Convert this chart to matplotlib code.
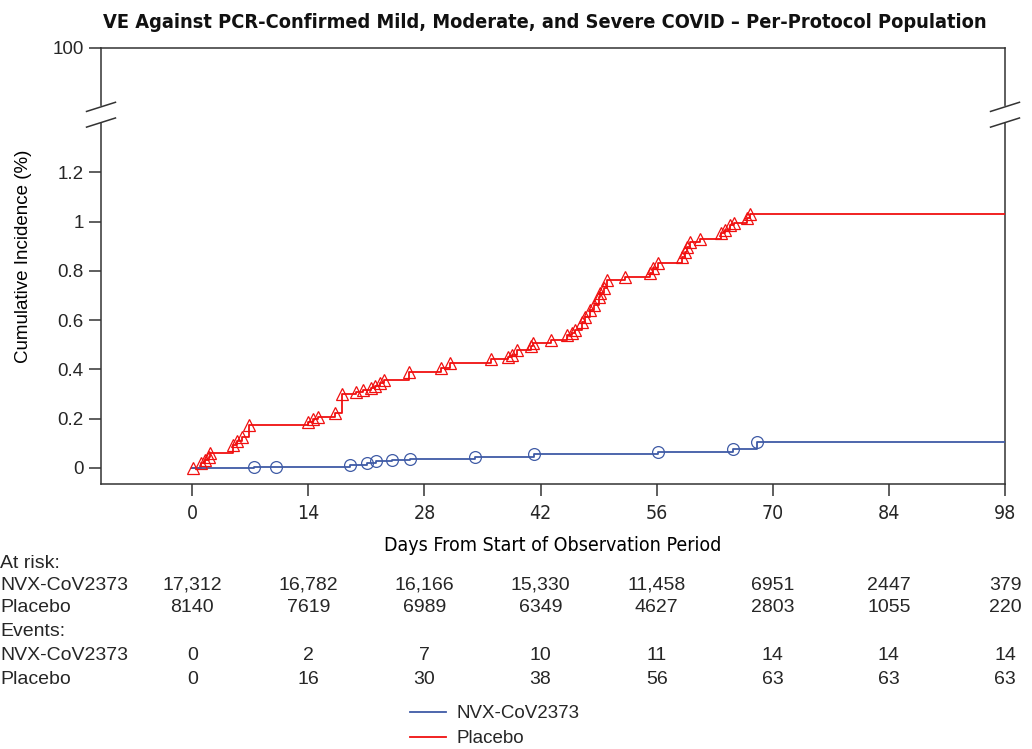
"""Cumulative incidence (KM style) chart with at-risk table, per-protocol population."""
import matplotlib
matplotlib.use("Agg")
import matplotlib.pyplot as plt
from matplotlib import font_manager
from matplotlib.transforms import blended_transform_factory

# ── Data ──────────────────────────────────────────────────────────────────────
placebo_days = [0.1, 1.0, 1.5, 2.0, 2.1, 4.9, 5.4, 6.0, 6.9, 14.0, 14.6, 15.2, 17.2,
                18.1, 19.7, 20.6, 21.6, 22.0, 22.7, 23.1, 26.1, 30.0, 31.1, 36.0,
                38.1, 38.5, 39.1, 40.9, 41.1, 43.2, 45.2, 45.8, 46.2, 47.0, 47.3,
                48.0, 48.4, 49.0, 49.2, 49.7, 50.0, 52.2, 55.2, 55.6, 56.2, 59.0,
                59.4, 59.7, 60.0, 61.2, 63.8, 64.2, 64.9, 65.3, 66.9, 67.2]
placebo_ci = [0.0, 0.019, 0.032, 0.046, 0.062, 0.093, 0.11, 0.127, 0.174, 0.185, 0.198,
              0.207, 0.222, 0.30, 0.31, 0.317, 0.325, 0.333, 0.345, 0.357, 0.388, 0.404,
              0.425, 0.443, 0.45, 0.46, 0.48, 0.495, 0.506, 0.52, 0.54, 0.546, 0.56,
              0.593, 0.614, 0.64, 0.66, 0.695, 0.709, 0.73, 0.763, 0.775, 0.79, 0.81,
              0.833, 0.857, 0.875, 0.898, 0.918, 0.928, 0.952, 0.966, 0.986, 0.995,
              1.013, 1.03]

nvx_days = [7.5, 10.1, 19.0, 21.1, 22.2, 24.1, 26.2, 34.1, 41.2, 56.2, 65.2, 68.1]
nvx_ci = [0.004, 0.006, 0.012, 0.02, 0.028, 0.032, 0.038, 0.045, 0.055, 0.066, 0.078, 0.107]

end_day = 98
risk_days = [0, 14, 28, 42, 56, 70, 84, 98]
nvx_at_risk = ["17,312", "16,782", "16,166", "15,330", "11,458", "6951", "2447", "379"]
placebo_at_risk = ["8140", "7619", "6989", "6349", "4627", "2803", "1055", "220"]
nvx_events = [0, 2, 7, 10, 11, 14, 14, 14]
placebo_events = [0, 16, 30, 38, 56, 63, 63, 63]

ytick_vals = [0, 0.2, 0.4, 0.6, 0.8, 1.0, 1.2]
ytick_labels = ["0", "0.2", "0.4", "0.6", "0.8", "1", "1.2"]

BLUE = "#3f5ba6"
RED = "#f01010"
TXT = "#262626"

names = {f.name for f in font_manager.fontManager.ttflist}
if "Liberation Sans Narrow" in names:
    NARROW = dict(family="Liberation Sans Narrow")
else:
    NARROW = dict(family="DejaVu Sans", stretch="condensed")
REG = "Liberation Sans" if "Liberation Sans" in names else "DejaVu Sans"

plt.rcParams.update({"font.family": REG, "text.color": TXT})

W, H = 1032, 749
fig = plt.figure(figsize=(W / 100, H / 100), dpi=100)
ax = fig.add_axes([101 / W, 1 - 484 / H, 904 / W, 436 / H])

# y scale: 0 at px 468, 1.0 at px 221 -> top of axes carries the "100" tick
y_bottom = -0.065
y_top = 1.704
ax.set_ylim(y_bottom, y_top)
ax.set_xlim(-11, end_day)

ax.step([0] + placebo_days + [end_day], [0] + placebo_ci + [placebo_ci[-1]],
        where="post", color=RED, lw=1.3, zorder=3)
ax.plot(placebo_days, placebo_ci, ls="none", marker="^", ms=9, mfc="none",
        mec=RED, mew=0.9, zorder=4)
ax.step([0] + nvx_days + [end_day], [0] + nvx_ci + [nvx_ci[-1]],
        where="post", color=BLUE, lw=1.3, zorder=3)
ax.plot(nvx_days, nvx_ci, ls="none", marker="o", ms=8.5, mfc="none",
        mec=BLUE, mew=0.9, zorder=4)

for s in ax.spines.values():
    s.set_color("#333333")
    s.set_linewidth(1.1)

ax.set_yticks(ytick_vals + [y_top])
ax.set_yticklabels(ytick_labels + ["100"], fontsize=13.5)
ax.set_xticks(risk_days)
ax.set_xticklabels([str(d) for d in risk_days], fontsize=14, **NARROW)
ax.tick_params(direction="out", length=8.5, width=1.1, color="#333333",
               labelcolor=TXT, pad=4)
ax.tick_params(axis="x", pad=6)

ax.set_ylabel("Cumulative Incidence (%)", fontsize=13.5)
ax.yaxis.set_label_coords(-0.076, 0.523)
ax.set_xlabel("Days From Start of Observation Period", fontsize=14, labelpad=9, **NARROW)

# axis break on both vertical spines
for xa in (0, 1):
    ax.plot([xa, xa], [0.835, 0.862], transform=ax.transAxes, color="white",
            lw=3, clip_on=False, zorder=5)
    for yc in (0.865, 0.829):
        ax.plot([xa - 0.016, xa + 0.016], [yc - 0.0105, yc + 0.0105],
                transform=ax.transAxes, color="#333333", lw=1.1,
                clip_on=False, zorder=6)

fig.text(545 / W, 1 - 22 / H,
         "VE Against PCR-Confirmed Mild, Moderate, and Severe COVID \u2013 Per-Protocol Population",
         ha="center", va="center", fontsize=14.3, fontweight="bold", color="#111111", **NARROW)

# at-risk / events table
tr = blended_transform_factory(ax.transData, fig.transFigure)
rows = [
    ("At risk:", None, 563),
    ("NVX-CoV2373", nvx_at_risk, 585),
    ("Placebo", placebo_at_risk, 608),
    ("Events:", None, 632),
    ("NVX-CoV2373", nvx_events, 656),
    ("Placebo", placebo_events, 680),
]
for label, vals, ypx in rows:
    fig.text(0.0, 1 - ypx / H, label, ha="left", va="center", fontsize=14)
    if vals is None:
        continue
    for d, v in zip(risk_days, vals):
        fig.text(d, 1 - ypx / H, str(v), ha="center", va="center", fontsize=14,
                 transform=tr)

h_nvx = plt.Line2D([], [], color=BLUE, lw=1.3)
h_pla = plt.Line2D([], [], color=RED, lw=1.3)
fig.legend([h_nvx, h_pla], ["NVX-CoV2373", "Placebo"], loc="center left",
           bbox_to_anchor=(401 / W, 1 - 726 / H), frameon=False, fontsize=13.5,
           handlelength=1.9, handletextpad=0.55, labelspacing=0.42, borderpad=0)

fig.savefig("out.png", dpi=100)
